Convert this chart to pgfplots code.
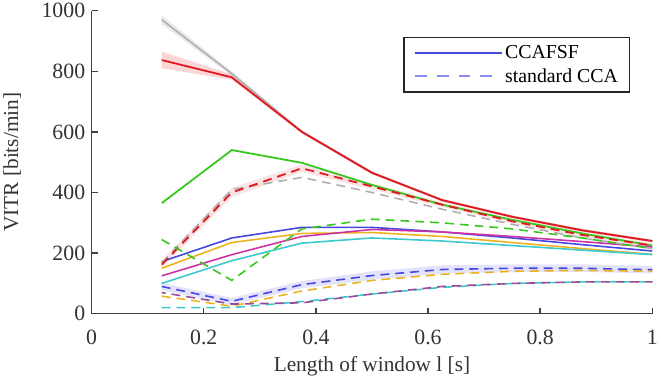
\documentclass[border=0pt]{standalone}
\usepackage{pgfplots}
\pgfplotsset{compat=1.18}
\usepgfplotslibrary{fillbetween}
\usepackage{fontspec}
\setmainfont{Liberation Serif}
\definecolor{cblue}{RGB}{70,70,225}
\definecolor{corange}{RGB}{238,178,30}
\definecolor{cmag}{RGB}{205,50,165}
\definecolor{ccyan}{RGB}{60,200,205}
\definecolor{cgreen}{RGB}{55,200,30}
\definecolor{cred}{RGB}{225,25,30}
\definecolor{cgray}{RGB}{175,175,175}
\definecolor{cpurp}{RGB}{150,75,150}
\definecolor{lblue}{RGB}{140,140,240}
\begin{document}
\begin{tikzpicture}
\begin{axis}[
  width=566pt, height=306pt, scale only axis,
  xmin=0, xmax=1, ymin=0, ymax=1000,
  axis x line=bottom, axis y line=left,
  axis line style={-, line width=1.5pt, black!75},
  xtick={0,0.2,0.4,0.6,0.8,1}, ytick={0,200,400,600,800,1000},
  xticklabels={0,0.2,0.4,0.6,0.8,1},
  yticklabels={0,200,400,600,800,1000},
  tick style={line width=1.3pt, black!75}, major tick length=6pt,
  tick align=inside,
  tick label style={font=\fontsize{22}{24}\selectfont, text=black!80},
  xticklabel style={yshift=-13pt},
  yticklabel style={xshift=-3pt},
  label style={font=\fontsize{21.5}{24}\selectfont, text=black!80},
  xlabel={Length of window l [s]}, ylabel={VITR [bits/min]},
  xlabel style={yshift=-5pt}, ylabel style={yshift=14pt},
  legend style={at={(0.961,0.914)}, anchor=north east, draw=black!85, line width=1.2pt,
    font=\fontsize{20}{22}\selectfont, inner xsep=10pt, inner ysep=6pt, row sep=5pt},
  legend cell align=left,
]
% bands
\addplot[draw=none, name path=ru, forget plot] coordinates {(0.125,865)(0.25,790)(0.375,605)(0.5,470)(0.625,380)(0.75,325)(0.875,280)(1,245)};
\addplot[draw=none, name path=rl, forget plot] coordinates {(0.125,810)(0.25,772)(0.375,595)(0.5,460)(0.625,370)(0.75,315)(0.875,270)(1,235)};
\addplot[cred, opacity=0.18, forget plot] fill between[of=ru and rl];
\addplot[draw=none, name path=gu, forget plot] coordinates {(0.125,985)(0.25,800)(0.375,605)(0.5,470)};
\addplot[draw=none, name path=gl, forget plot] coordinates {(0.125,955)(0.25,785)(0.375,595)(0.5,462)};
\addplot[cgray, opacity=0.25, forget plot] fill between[of=gu and gl];
\addplot[draw=none, name path=bu, forget plot] coordinates {(0.125,102)(0.25,52)(0.375,108)(0.5,140)(0.625,160)(0.75,163)(0.875,163)(1,158)};
\addplot[draw=none, name path=bl, forget plot] coordinates {(0.125,78)(0.25,30)(0.375,84)(0.5,112)(0.625,132)(0.75,138)(0.875,138)(1,133)};
\addplot[cblue, opacity=0.15, forget plot] fill between[of=bu and bl];
\addplot[draw=none, name path=du, forget plot] coordinates {(0.125,175)(0.25,415)(0.375,492)(0.5,430)(0.625,368)(0.75,312)(0.875,268)(1,232)};
\addplot[draw=none, name path=dl, forget plot] coordinates {(0.125,150)(0.25,385)(0.375,468)(0.5,410)(0.625,352)(0.75,298)(0.875,252)(1,218)};
\addplot[cred, opacity=0.12, forget plot] fill between[of=du and dl];
% solid
\addplot[cgray, line width=1.6pt, forget plot] coordinates {(0.125,970)(0.25,792)(0.375,600)(0.5,466)(0.625,375)(0.75,320)(0.875,277)(1,240)};
\addplot[cred, line width=1.8pt, forget plot] coordinates {(0.125,837)(0.25,780)(0.375,600)(0.5,465)(0.625,375)(0.75,320)(0.875,275)(1,240)};
\addplot[cgreen, line width=1.8pt, forget plot] coordinates {(0.125,365)(0.25,540)(0.375,498)(0.5,425)(0.625,360)(0.75,310)(0.875,265)(1,225)};
\addplot[cblue, line width=1.6pt, forget plot] coordinates {(0.125,172)(0.25,250)(0.375,285)(0.5,285)(0.625,270)(0.75,250)(0.875,228)(1,207)};
\addplot[corange, line width=1.6pt, forget plot] coordinates {(0.125,150)(0.25,235)(0.375,265)(0.5,268)(0.625,255)(0.75,235)(0.875,215)(1,196)};
\addplot[cmag, line width=1.6pt, forget plot] coordinates {(0.125,125)(0.25,195)(0.375,255)(0.5,278)(0.625,270)(0.75,255)(0.875,238)(1,220)};
\addplot[ccyan, line width=1.6pt, forget plot] coordinates {(0.125,100)(0.25,175)(0.375,233)(0.5,250)(0.625,240)(0.75,225)(0.875,210)(1,195)};
% dashed
\addplot[cgray, line width=1.6pt, dash pattern=on 9pt off 6pt, forget plot] coordinates {(0.125,168)(0.25,410)(0.375,450)(0.5,400)(0.625,345)(0.75,295)(0.875,250)(1,215)};
\addplot[cred, line width=1.8pt, dash pattern=on 9pt off 6pt, forget plot] coordinates {(0.125,162)(0.25,400)(0.375,480)(0.5,420)(0.625,360)(0.75,305)(0.875,260)(1,225)};
\addplot[cgreen, line width=1.6pt, dash pattern=on 9pt off 6pt, forget plot] coordinates {(0.125,245)(0.25,110)(0.375,280)(0.5,312)(0.625,300)(0.75,280)(0.875,250)(1,215)};
\addplot[cblue, line width=1.6pt, dash pattern=on 9pt off 6pt, forget plot] coordinates {(0.125,90)(0.25,41)(0.375,96)(0.5,126)(0.625,146)(0.75,150)(0.875,150)(1,145)};
\addplot[corange, line width=1.6pt, dash pattern=on 9pt off 6pt, forget plot] coordinates {(0.125,58)(0.25,25)(0.375,75)(0.5,110)(0.625,130)(0.75,140)(0.875,143)(1,140)};
\addplot[ccyan, line width=1.6pt, dash pattern=on 9pt off 6pt, forget plot] coordinates {(0.125,20)(0.25,20)(0.375,40)(0.5,65)(0.625,87)(0.75,100)(0.875,105)(1,105)};
\addplot[cpurp, line width=1.6pt, dash pattern=on 9pt off 6pt, dash phase=5pt, forget plot] coordinates {(0.125,70)(0.25,32)(0.375,36)(0.5,65)(0.625,90)(0.75,100)(0.875,105)(1,105)};
% legend
\addlegendimage{legend image code/.code={\draw[cblue, solid, line width=2pt] (0pt,0pt) -- (88pt,0pt);}}
\addlegendentry{CCAFSF}
\addlegendimage{legend image code/.code={\draw[lblue, line width=1.8pt, dash pattern=on 12pt off 10pt] (0pt,0pt) -- (88pt,0pt);}}
\addlegendentry{standard CCA}
\end{axis}
\end{tikzpicture}
\end{document}
